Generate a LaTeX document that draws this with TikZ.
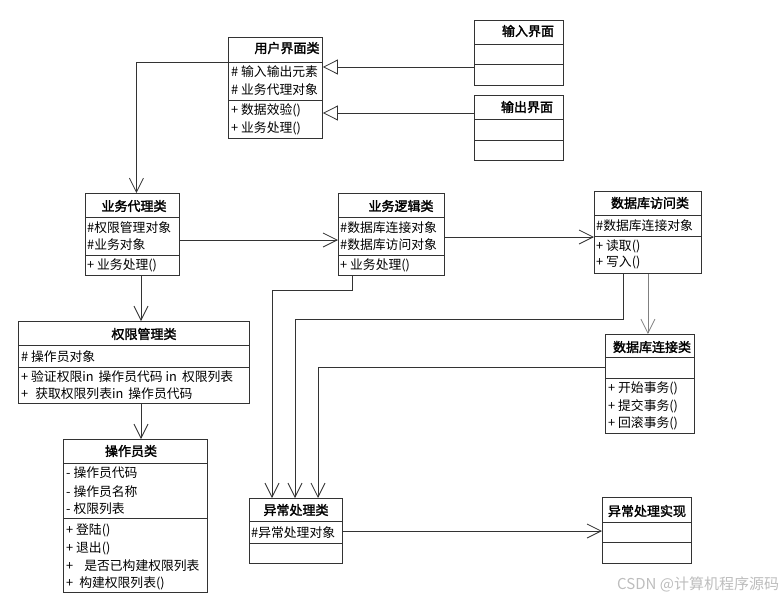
\documentclass[tikz,border=0pt]{standalone}
\usepackage{fontspec}
\setmainfont{Noto Sans CJK SC}[AutoFakeBold=2]
\usetikzlibrary{arrows.meta}
\definecolor{linec}{HTML}{333333}
\definecolor{grayl}{HTML}{808080}
\definecolor{wm}{HTML}{BDBDBD}
\tikzset{
  cls/.style={draw=linec, line width=0.9pt, fill=white, inner sep=0pt, anchor=north west},
  sepl/.style={draw=linec, line width=0.9pt},
  ttl/.style={font=\bfseries\fontsize{13}{15}\selectfont, inner sep=0pt},
  txt/.style={font=\fontsize{12.8}{15}\selectfont, anchor=west, inner sep=0pt},
  assoc/.style={draw=linec, line width=0.8pt, -{Straight Barb[length=14pt,width=14pt]}},
  gen/.style={draw=linec, line width=0.8pt, -{Triangle[open,length=15pt,width=15pt]}},
}
\newcommand\umlbox[7]{%
  \node[cls, minimum width=#4pt, minimum height=#5pt] (#1) at (#2,#3) {};
  \draw[sepl] (#1.west |- 0,#6) -- (#1.east |- 0,#6);
  \draw[sepl] (#1.west |- 0,#7) -- (#1.east |- 0,#7);}
\begin{document}
\begin{tikzpicture}[x=1pt,y=-1pt]
\useasboundingbox (0,0) rectangle (781,600);

% boxes
\umlbox{ui}{228}{37}{94}{101}{62}{100}
\umlbox{inp}{474}{20}{89}{65}{44}{64}
\umlbox{outp}{474}{95}{89}{65}{119}{140}
\umlbox{agent}{85}{193}{94}{82}{217}{255}
\umlbox{logic}{338}{193}{106}{82}{217}{255}
\umlbox{dba}{594}{191}{107}{82}{215}{236}
\umlbox{dbc}{605}{334}{89}{99}{357}{378}
\umlbox{auth}{18}{321}{231}{82}{345}{367}
\umlbox{oper}{63}{439}{144}{153}{463}{518}
\umlbox{exc}{249}{498}{93}{65}{521}{543}
\umlbox{excimpl}{602}{497}{89}{66}{522}{542}

% titles
\node[ttl] (ui-t) at (287,48) {用户界面类};
\node[ttl] (inp-t) at (528,31) {输入界面};
\node[ttl] (outp-t) at (527,107) {输出界面};
\node[ttl] (agent-t) at (134,206) {业务代理类};
\node[ttl] (logic-t) at (401,206) {业务逻辑类};
\node[ttl] (dba-t) at (650,203) {数据库访问类};
\node[ttl] (dbc-t) at (652,347) {数据库连接类};
\node[ttl] (auth-t) at (144,334) {权限管理类};
\node[ttl] (oper-t) at (131,451) {操作员类};
\node[ttl] (exc-t) at (296,510) {异常处理类};
\node[ttl] (excimpl-t) at (647,511) {异常处理实现};

% members
\node[txt] (ui-a1) at (231,72) {\# 输入输出元素};
\node[txt] (ui-a2) at (231,90) {\# 业务代理对象};
\node[txt] (ui-o1) at (231,110) {+ 数据效验()};
\node[txt] (ui-o2) at (231,128) {+ 业务处理()};

\node[txt] (agent-a1) at (87,228) {\#权限管理对象};
\node[txt] (agent-a2) at (87,245) {\#业务对象};
\node[txt] (agent-o1) at (87,265) {+ 业务处理()};

\node[txt] (logic-a1) at (340,228) {\#数据库连接对象};
\node[txt] (logic-a2) at (340,245) {\#数据库访问对象};
\node[txt] (logic-o1) at (340,265) {+ 业务处理()};

\node[txt] (dba-a1) at (596,226) {\#数据库连接对象};
\node[txt] (dba-o1) at (596,246) {+ 读取()};
\node[txt] (dba-o2) at (596,263) {+ 写入()};

\node[txt] (dbc-o1) at (608,388) {+ 开始事务()};
\node[txt] (dbc-o2) at (608,406) {+ 提交事务()};
\node[txt] (dbc-o3) at (608,423) {+ 回滚事务()};

\node[txt] (auth-a1) at (21,357) {\# 操作员对象};
\node[txt] (auth-o1) at (21,377) {+ 验证权限in\hspace{5pt}操作员代码\hspace{3pt}in\hspace{5pt}权限列表};
\node[txt] (auth-o2) at (21,394) {+\hspace{7pt}获取权限列表in\hspace{5pt}操作员代码};

\node[txt] (oper-a1) at (66,473) {- 操作员代码};
\node[txt] (oper-a2) at (66,492) {- 操作员名称};
\node[txt] (oper-a3) at (66,509) {- 权限列表};
\node[txt] (oper-o1) at (66,530) {+ 登陆()};
\node[txt] (oper-o2) at (66,548) {+ 退出()};
\node[txt] (oper-o3) at (66,566) {+\hspace{11pt}是否已构建权限列表};
\node[txt] (oper-o4) at (66,583) {+\hspace{6pt}构建权限列表()};

\node[txt] (exc-a1) at (251,533) {\#异常处理对象};

% connectors
\draw[gen] (inp.west |- 0,67) -- (ui.east |- 0,67);
\draw[gen] (outp.west |- 0,113) -- (ui.east |- 0,113);
\draw[assoc] (ui.west |- 0,62) -| ([xshift=4pt]agent.north);
\draw[assoc] (agent.east |- 0,240) -- (logic.west |- 0,240);
\draw[assoc] (logic.east |- 0,237) -- (dba.west |- 0,237);
\draw[assoc, draw=grayl] (dba.south) -- (dba.south |- dbc.north);
\draw[assoc] (logic.south -| 352,0) |- (272,290) -- (exc.north -| 272,0);
\draw[assoc] (dba.south -| 623,0) |- (295,319) -- (exc.north -| 295,0);
\draw[assoc] (dbc.west |- 0,367) -| (exc.north -| 318,0);
\draw[assoc] (exc.east |- 0,531) -- (excimpl.west |- 0,531);
\draw[assoc] (agent.south -| 141,0) -- (auth.north -| 141,0);
\draw[assoc] (auth.south -| 141,0) -- (oper.north -| 141,0);

% watermark
\node[anchor=west, inner sep=0pt, text=wm, font=\fontsize{15}{17}\selectfont] (wmark) at (617,584) {CSDN @计算机程序源码};
\end{tikzpicture}
\end{document}
